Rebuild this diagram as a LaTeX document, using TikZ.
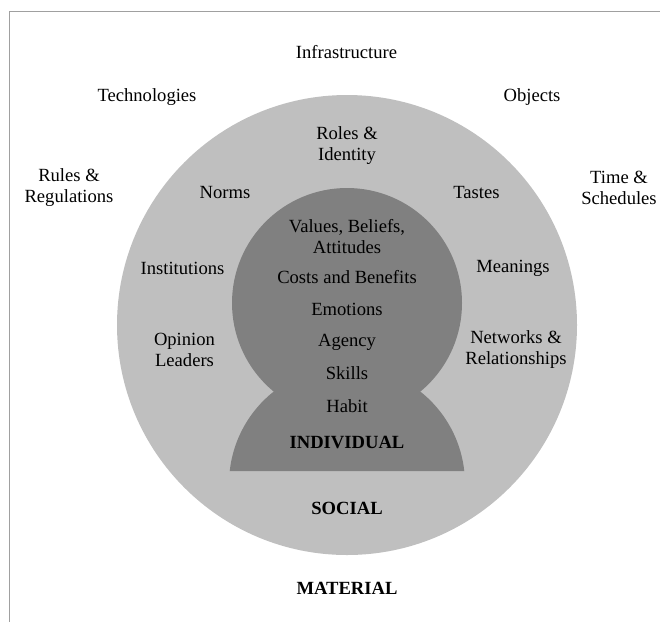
\documentclass[tikz,border=0pt]{standalone}
\usepackage{fontspec}
\setmainfont{Liberation Serif}
\usetikzlibrary{positioning}
\definecolor{socialgray}{RGB}{191,191,191}
\definecolor{indivgray}{RGB}{128,128,128}
\definecolor{framegray}{RGB}{160,160,160}

\begin{document}
\begin{tikzpicture}[x=1pt,y=-1pt,
  lbl/.style={align=center,inner sep=0pt,font=\fontsize{18.6}{21}\selectfont},
  head/.style={lbl,font=\fontsize{18.6}{21}\selectfont\bfseries}]
  \useasboundingbox (0,0) rectangle (660,622);
  \draw[framegray,line width=1.2pt] (660,11.7) -- (9.3,11.7) -- (9.3,622);

  % rings
  \fill[socialgray] (347,325) circle (230);
  \fill[indivgray] (347,303) circle (115);
  \fill[indivgray] (347,484) ++(186.3:118) arc (186.3:353.7:118) -- cycle;

  % material
  \node[lbl] (infra) at (346.5,52) {Infrastructure};
  \node[lbl] (tech) at (147,97) {Technologies};
  \node[lbl] (obj) at (532,97) {Objects};
  \node[lbl] (rules) at (69,188) {Rules \&\\Regulations};
  \node[lbl] (time) at (619,188) {Time \&\\Schedules};
  \node[head] (material) at (347,588) {MATERIAL};

  % social
  \node[lbl] (roles) at (347,146) {Roles \&\\Identity};
  \node[lbl] (norms) at (225,192) {Norms};
  \node[lbl] (tastes) at (476.5,192) {Tastes};
  \node[lbl] (inst) at (182.5,268) {Institutions};
  \node[lbl] (mean) at (513,268) {Meanings};
  \node[lbl] (opin) at (184.5,350) {Opinion\\Leaders};
  \node[lbl] (netw) at (516,350) {Networks \&\\Relationships};
  \node[head] (social) at (347,508) {SOCIAL};

  % individual
  \node[lbl] (values) at (347,237) {Values, Beliefs,\\Attitudes};
  \node[lbl] (costs) at (347,277) {Costs and Benefits};
  \node[lbl] (emot) at (347,309) {Emotions};
  \node[lbl] (agency) at (347,342) {Agency};
  \node[lbl] (skills) at (347,373) {Skills};
  \node[lbl] (habit) at (347,406) {Habit};
  \node[head] (indiv) at (347,442) {INDIVIDUAL};
\end{tikzpicture}
\end{document}
